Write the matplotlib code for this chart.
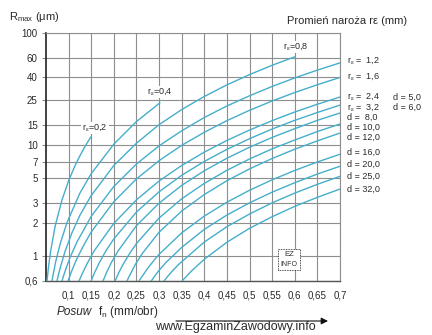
import matplotlib
matplotlib.use('Agg')
import matplotlib.pyplot as plt
from matplotlib.patches import Rectangle

plt.rcParams['font.family'] = ['Liberation Sans', 'DejaVu Sans']
plt.rcParams['mathtext.fontset'] = 'custom'
plt.rcParams['mathtext.rm'] = 'Liberation Sans'
plt.rcParams['mathtext.it'] = 'Liberation Sans:italic'
plt.rcParams['mathtext.bf'] = 'Liberation Sans:bold'

# posuw fn (mm/obr) -> Rmax (um), kazda krzywa osobno
f_r02 = [0.0522, 0.0552, 0.0602, 0.0702, 0.0852, 0.1, 0.115, 0.125, 0.135, 0.149]
R_r02 = [0.6, 0.78, 1.11, 1.86, 3.18, 4.75, 6.59, 7.95, 9.44, 11.7]
f_r04 = [0.0633, 0.0663, 0.0713, 0.0813, 0.0963, 0.125, 0.15, 0.2, 0.25, 0.302]
R_r04 = [0.6, 0.70, 0.89, 1.29, 2.0, 3.68, 5.5, 10.1, 16.1, 23.7]
f_r08 = [0.0743, 0.0773, 0.0823, 0.0923, 0.1073, 0.125, 0.15, 0.2, 0.25, 0.3,
         0.35, 0.4, 0.45, 0.5, 0.55, 0.601]
R_r08 = [0.6, 0.68, 0.81, 1.11, 1.62, 2.33, 3.5, 6.5, 10.3, 15.1,
         20.6, 27.0, 34.3, 42.4, 51.4, 61.4]
f_r12 = [0.0854, 0.0884, 0.0934, 0.1034, 0.1184, 0.15, 0.2, 0.25, 0.3, 0.35,
         0.4, 0.45, 0.5, 0.55, 0.6, 0.65, 0.7]
R_r12 = [0.6, 0.66, 0.76, 0.98, 1.34, 2.28, 4.22, 6.7, 9.75, 13.3,
         17.5, 22.2, 27.4, 33.2, 39.6, 46.5, 54.0]
f_r16 = [0.0987, 0.1017, 0.1067, 0.1167, 0.1317, 0.15, 0.2, 0.25, 0.3, 0.35,
         0.4, 0.45, 0.5, 0.55, 0.6, 0.65, 0.7]
R_r16 = [0.6, 0.65, 0.735, 0.92, 1.22, 1.65, 3.08, 4.93, 7.18, 9.85,
         12.9, 16.4, 20.3, 24.6, 29.3, 34.4, 40.0]
f_r24 = [0.123, 0.126, 0.131, 0.141, 0.156, 0.2, 0.25, 0.3, 0.35, 0.4,
         0.45, 0.5, 0.55, 0.6, 0.65, 0.7]
R_r24 = [0.6, 0.64, 0.71, 0.86, 1.11, 1.97, 3.2, 4.72, 6.5, 8.56,
         10.9, 13.5, 16.4, 19.6, 23.0, 26.7]
f_r32 = [0.1496, 0.1526, 0.1576, 0.1676, 0.1826, 0.2, 0.25, 0.3, 0.35, 0.4,
         0.45, 0.5, 0.55, 0.6, 0.65, 0.7]
R_r32 = [0.6, 0.64, 0.716, 0.87, 1.12, 1.43, 2.49, 3.78, 5.31, 7.07,
         9.07, 11.3, 13.8, 16.5, 19.4, 22.6]
f_d8 = [0.176, 0.179, 0.184, 0.194, 0.209, 0.25, 0.3, 0.35, 0.4, 0.45,
        0.5, 0.55, 0.6, 0.65, 0.7]
R_d8 = [0.6, 0.64, 0.716, 0.87, 1.11, 1.88, 2.99, 4.31, 5.83, 7.55,
        9.47, 11.6, 13.9, 16.5, 19.2]
f_d10 = [0.2027, 0.2057, 0.2107, 0.2207, 0.2357, 0.25, 0.3, 0.35, 0.4, 0.45,
         0.5, 0.55, 0.6, 0.65, 0.7]
R_d10 = [0.6, 0.64, 0.71, 0.85, 1.07, 1.30, 2.2, 3.27, 4.49, 5.89,
         7.44, 9.16, 11.0, 13.1, 15.3]
f_d12 = [0.2292, 0.2322, 0.2372, 0.2472, 0.2622, 0.3, 0.35, 0.4, 0.45, 0.5,
         0.55, 0.6, 0.65, 0.7]
R_d12 = [0.6, 0.64, 0.70, 0.84, 1.05, 1.64, 2.54, 3.57, 4.75, 6.06,
         7.51, 9.1, 10.8, 12.7]
f_d16 = [0.2558, 0.2588, 0.2638, 0.2738, 0.2888, 0.3, 0.35, 0.4, 0.45, 0.5,
         0.55, 0.6, 0.65, 0.7]
R_d16 = [0.6, 0.63, 0.67, 0.77, 0.92, 1.04, 1.62, 2.29, 3.05, 3.9,
         4.84, 5.87, 6.99, 8.2]
f_d20 = [0.2823, 0.2853, 0.2903, 0.3003, 0.3153, 0.35, 0.4, 0.45, 0.5, 0.55,
         0.6, 0.65, 0.7]
R_d20 = [0.6, 0.62, 0.665, 0.75, 0.88, 1.2, 1.74, 2.34, 3.01, 3.75,
         4.56, 5.45, 6.4]
f_d25 = [0.311, 0.314, 0.319, 0.329, 0.344, 0.4, 0.45, 0.5, 0.55, 0.6,
         0.65, 0.7]
R_d25 = [0.6, 0.62, 0.66, 0.735, 0.85, 1.34, 1.84, 2.39, 3.01, 3.68,
         4.41, 5.2]
f_d32 = [0.351, 0.354, 0.359, 0.369, 0.384, 0.4, 0.45, 0.5, 0.55, 0.6,
         0.65, 0.7]
R_d32 = [0.6, 0.62, 0.65, 0.72, 0.82, 0.94, 1.335, 1.78, 2.26, 2.8,
         3.37, 4.0]

x_ticks = [0.1, 0.15, 0.2, 0.25, 0.3, 0.35, 0.4, 0.45, 0.5, 0.55, 0.6, 0.65, 0.7]
x_labels = ['0,1', '0,15', '0,2', '0,25', '0,3', '0,35', '0,4', '0,45', '0,5',
            '0,55', '0,6', '0,65', '0,7']
y_ticks = [0.6, 1, 2, 3, 5, 7, 10, 15, 25, 40, 60, 100]
y_labels = ['0,6', '1', '2', '3', '5', '7', '10', '15', '25', '40', '60', '100']

# opisy krzywych po prawej stronie
r_names = ['1,2', '1,6', '2,4', '3,2']
d_names = [' 8,0', '10,0', '12,0', '16,0', '20,0', '25,0', '32,0']

curves = [(f_r02, R_r02), (f_r04, R_r04), (f_r08, R_r08), (f_r12, R_r12),
          (f_r16, R_r16), (f_r24, R_r24), (f_r32, R_r32), (f_d8, R_d8),
          (f_d10, R_d10), (f_d12, R_d12), (f_d16, R_d16), (f_d20, R_d20),
          (f_d25, R_d25), (f_d32, R_d32)]

W, H = 432, 335
blue = '#45aecb'
gridc = '#8e8e8e'
txt = '#2a2a2a'


def fx(x):
    return x / W


def fy(y):
    return 1 - y / H


fig = plt.figure(figsize=(W / 100, H / 100), dpi=100, facecolor='white')
ax = fig.add_axes([fx(46), fy(281), (340 - 46) / W, (281 - 33) / H])

for f, R in curves:
    ax.plot(f, R, color=blue, lw=1.0, solid_capstyle='round', zorder=3)

ax.set_yscale('log')
ax.set_xlim(0.05, 0.7)
ax.set_ylim(0.6, 100)
ax.set_xticks(x_ticks)
ax.set_xticklabels(x_labels)
ax.set_yticks(y_ticks)
ax.set_yticklabels(y_labels)
ax.minorticks_off()
ax.grid(True, color=gridc, lw=0.8, zorder=1)
ax.tick_params(axis='x', length=0, pad=6.5, labelsize=7, labelcolor=txt)
ax.tick_params(axis='y', length=3, width=0.8, color=gridc, pad=3,
               labelsize=7, labelcolor=txt)
for s in ['top', 'right']:
    ax.spines[s].set_color(gridc)
    ax.spines[s].set_linewidth(0.8)
ax.spines['left'].set_color('#222222')
ax.spines['left'].set_linewidth(1.2)
ax.spines['bottom'].set_color('#555555')
ax.spines['bottom'].set_linewidth(1.0)

# tytuly osi
fig.text(fx(9), fy(17), r'R$_{\mathrm{max}}$ ($\mathrm{\mu}$m)', fontsize=8,
         color=txt, va='center', ha='left')
fig.text(fx(287), fy(21), 'Promień naroża rε (mm)', fontsize=8,
         color=txt, va='center', ha='left')
fig.text(fx(57), fy(312), 'Posuw', fontsize=8.5, style='italic',
         color=txt, va='center', ha='left')
fig.text(fx(98), fy(312), r'f$_{\mathrm{n}}$ (mm/obr)', fontsize=8.5,
         color=txt, va='center', ha='left')

# etykiety na koncach krotkich krzywych
box = dict(facecolor='white', edgecolor='none', pad=0.6)
fig.text(fx(95), fy(128), r'r$_{\mathrm{ε}}$=0,2', fontsize=6.5, color=txt,
         ha='center', va='center', bbox=box, zorder=5)
fig.text(fx(160), fy(92), r'r$_{\mathrm{ε}}$=0,4', fontsize=6.5, color=txt,
         ha='center', va='center', bbox=box, zorder=5)
fig.text(fx(296), fy(47), r'r$_{\mathrm{ε}}$=0,8', fontsize=6.5, color=txt,
         ha='center', va='center', bbox=box, zorder=5)

r_y = [61, 76, 97, 107]
for name, y in zip(r_names, r_y):
    fig.text(fx(347), fy(y), r'r$_{\mathrm{ε}}$ =  ' + name, fontsize=6.5,
             color=txt, ha='left', va='center')
fig.text(fx(393), fy(97), 'd = 5,0', fontsize=6.5, color=txt, ha='left', va='center')
fig.text(fx(393), fy(107), 'd = 6,0', fontsize=6.5, color=txt, ha='left', va='center')

d_y = [117, 127, 137, 152, 164, 176, 189]
for name, y in zip(d_names, d_y):
    fig.text(fx(347), fy(y), 'd = ' + name, fontsize=6.5, color=txt,
             ha='left', va='center')

# strzalka i adres strony
ax.annotate('', xy=(328, H - 321), xytext=(176, H - 321),
            xycoords='figure pixels', textcoords='figure pixels',
            arrowprops=dict(arrowstyle='-|>', color='#111111', lw=0.8,
                            mutation_scale=10, shrinkA=0, shrinkB=0),
            annotation_clip=False)
fig.text(fx(155), fy(327), 'www.EgzaminZawodowy.info', fontsize=9,
         color=txt, ha='left', va='center')

# znak wodny
fig.add_artist(Rectangle((fx(278), fy(270)), 22 / W, 21 / H,
                         transform=fig.transFigure, facecolor='white',
                         edgecolor='#111111', lw=0.6, ls=(0, (1, 1)), zorder=6))
fig.text(fx(289), fy(255), 'EZ', fontsize=5.5, color='#333333',
         ha='center', va='center', zorder=7)
fig.text(fx(289), fy(264), 'INFO', fontsize=5, color='#333333',
         ha='center', va='center', zorder=7)

fig.savefig('out.png', dpi=100, facecolor='white')
